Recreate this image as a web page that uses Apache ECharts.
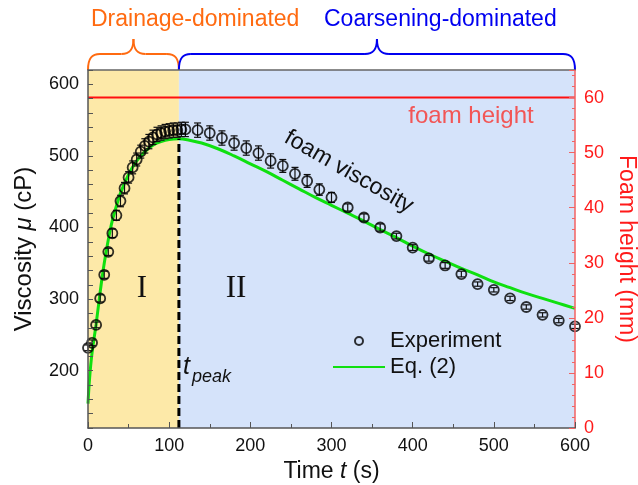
<!DOCTYPE html>
<html>
<head>
<meta charset="utf-8">
<script src="https://cdn.jsdelivr.net/npm/echarts@6/dist/echarts.min.js"></script>
<style>
  html, body { margin: 0; padding: 0; background: #fff; }
  #chart { width: 638px; height: 485px; }
</style>
</head>
<body>
<div id="chart"></div>
<script>
// experiment: time (s), viscosity (cP), error bar (cP)
var expT = [0, 5, 10, 15, 20, 25, 30, 35, 40, 45, 50, 55, 60, 65, 70, 75, 80, 85, 90, 95, 100, 105, 110, 115, 120,
            135, 150, 165, 180, 195, 210, 225, 240, 255, 270, 285, 300,
            320, 340, 360, 380, 400, 420, 440, 460, 480, 500, 520, 540, 560, 580, 600];
var expV = [232, 239, 264, 301, 334, 366, 392, 417, 437, 455, 470, 484, 495, 506, 514, 520, 526, 530, 532, 534, 535, 536, 536, 537, 537,
            536, 532, 525, 518, 511, 504, 493, 486, 475, 465, 453, 442,
            428, 414, 400, 388, 372, 357, 347, 335, 321, 313, 301, 289, 278, 270, 262];
var expErr = [4, 4, 4, 5, 5, 5, 6, 7, 8, 8, 8, 9, 9, 9, 10, 10, 10, 10, 10, 10, 10, 10, 10, 10, 10,
              10, 10, 10, 10, 10, 10, 10, 9, 9, 9, 8, 7,
              5, 5, 5, 4, 4, 4, 4, 4, 3, 3, 3, 3, 3, 3, 3];

// Eq. (2) fit
var fitT = [0, 2, 5, 10, 15, 20, 25, 30, 35, 40, 50, 60, 70, 80, 90, 100, 112, 125, 140, 160, 180, 200, 220, 240, 260, 280,
            300, 320, 340, 360, 380, 400, 420, 440, 460, 480, 500, 520, 540, 560, 580, 600];
var fitV = [154, 190, 225, 265, 310, 350, 383, 410, 430, 448, 474, 493, 506, 515, 520, 523, 524, 522, 518, 510, 500, 489, 478, 466, 454, 442,
            431, 420, 409, 397, 386, 374, 363, 353, 343, 334, 324, 316, 308, 301, 294, 287];

var tPeak = 112;
var peakV = 524;
var foamHeight = 60;
var xTicks = [0, 600];
var yTicks = [120, 620];
var y2Ticks = [0, 65];

var font = 'Liberation Sans, Arial, sans-serif';

var chart = echarts.init(document.getElementById('chart'));

function pairs(a, b) {
  return a.map(function (v, i) { return [v, b[i]]; });
}

var option = {
  animation: false,
  textStyle: { fontFamily: font },
  grid: { left: 88, right: 63, top: 70, bottom: 57, outerBoundsMode: 'none', containLabel: false },
  legend: {
    data: ['Experiment', { name: 'Eq. (2)', itemStyle: { opacity: 0 } }],
    orient: 'vertical',
    left: 332,
    top: 330,
    padding: 0,
    itemWidth: 52,
    itemHeight: 8,
    itemGap: 4,
    textStyle: { fontSize: 22, color: '#111', fontFamily: font }
  },
  xAxis: [{
    type: 'value',
    min: xTicks[0], max: xTicks[1], interval: 100,
    z: 10,
    axisLine: { onZero: false, lineStyle: { color: '#555', width: 1.5 } },
    axisTick: { inside: true, length: 6, lineStyle: { color: '#555' } },
    minorTick: { show: true, splitNumber: 2, length: 4, lineStyle: { color: '#555' } },
    splitLine: { show: false },
    axisLabel: { fontSize: 18, color: '#111', margin: 9 },
    name: 'Time {i|t} (s)',
    nameLocation: 'middle',
    nameGap: 29,
    nameTextStyle: { fontSize: 23, color: '#111', rich: { i: { fontStyle: 'italic', fontSize: 23, color: '#111' } } }
  }, {
    type: 'value',
    position: 'top',
    min: xTicks[0], max: xTicks[1],
    z: 10,
    axisLine: { onZero: false, lineStyle: { color: '#666', width: 1.5 } },
    axisTick: { show: false },
    axisLabel: { show: false },
    splitLine: { show: false }
  }],
  yAxis: [{
    type: 'value',
    position: 'left',
    min: yTicks[0], max: yTicks[1], interval: 20,
    z: 10,
    axisLine: { show: true, onZero: false, lineStyle: { color: '#555', width: 1.5 } },
    axisTick: { show: true, inside: true, length: 5, lineStyle: { color: '#555' } },
    splitLine: { show: false },
    axisLabel: {
      fontSize: 18, color: '#111', margin: 9,
      formatter: function (v) { return v % 100 === 0 ? v : ''; }
    },
    name: 'Viscosity {i|μ} (cP)',
    nameLocation: 'middle',
    nameGap: 52,
    nameTextStyle: { fontSize: 24, color: '#111', rich: { i: { fontStyle: 'italic', fontSize: 24, color: '#111' } } }
  }, {
    type: 'value',
    position: 'right',
    min: y2Ticks[0], max: y2Ticks[1], interval: 10,
    z: 10,
    axisLine: { show: true, onZero: false, lineStyle: { color: '#F26262', width: 1.5 } },
    axisTick: { show: true, inside: true, length: 6, lineStyle: { color: '#F26262' } },
    minorTick: { show: true, splitNumber: 5, length: 3, lineStyle: { color: '#F26262' } },
    splitLine: { show: false },
    axisLabel: {
      fontSize: 18, color: '#FF1A1A', margin: 9,
      formatter: function (v) { return v % 10 === 0 ? v : ''; }
    },
    name: 'Foam height (mm)',
    nameLocation: 'middle',
    nameRotate: -90,
    nameGap: 40,
    nameTextStyle: { fontSize: 23, color: '#FF1A1A' }
  }],
  series: [{
    name: 'regions',
    type: 'line',
    data: [],
    z: 0,
    silent: true,
    markArea: {
      silent: true,
      data: [
        [{ xAxis: 0, itemStyle: { color: '#FDE9A8' } }, { xAxis: tPeak }],
        [{ xAxis: tPeak, itemStyle: { color: '#D5E3FA' } }, { xAxis: 600 }]
      ]
    }
  }, {
    name: 'height',
    type: 'line',
    yAxisIndex: 1,
    data: [[0, foamHeight], [600, foamHeight]],
    symbol: 'none',
    z: 3,
    lineStyle: { color: '#FF1010', width: 2 }
  }, {
    name: 'Eq. (2)',
    type: 'line',
    data: pairs(fitT, fitV),
    smooth: 0.4,
    symbol: 'none',
    z: 4,
    itemStyle: { color: '#10E010' },
    lineStyle: { color: '#10E010', width: 3 }
  }, {
    name: 'peak',
    type: 'line',
    data: [[tPeak, yTicks[0]], [tPeak, peakV]],
    symbol: 'none',
    z: 5,
    lineStyle: { color: '#000', width: 3, type: [8, 4] }
  }, {
    name: 'errors',
    type: 'custom',
    z: 6,
    data: expT.map(function (t, i) { return [t, expV[i], expErr[i]]; }),
    renderItem: function (params, api) {
      var hi = api.coord([api.value(0), api.value(1) + api.value(2)]);
      var lo = api.coord([api.value(0), api.value(1) - api.value(2)]);
      var w = 3.5;
      var st = { stroke: '#111', lineWidth: 1.2 };
      return {
        type: 'group',
        children: [
          { type: 'line', shape: { x1: hi[0], y1: hi[1], x2: lo[0], y2: lo[1] }, style: st },
          { type: 'line', shape: { x1: hi[0] - w, y1: hi[1], x2: hi[0] + w, y2: hi[1] }, style: st },
          { type: 'line', shape: { x1: lo[0] - w, y1: lo[1], x2: lo[0] + w, y2: lo[1] }, style: st }
        ]
      };
    }
  }, {
    name: 'Experiment',
    type: 'scatter',
    data: pairs(expT, expV),
    symbol: 'circle',
    symbolSize: 10,
    z: 7,
    itemStyle: { color: 'rgba(0,0,0,0)', borderColor: '#000', borderWidth: 1.8 }
  }]
};

chart.setOption(option);

// annotations placed from data coordinates
var p0 = chart.convertToPixel({ xAxisIndex: 0 }, 0);
var pk = chart.convertToPixel({ xAxisIndex: 0 }, tPeak);
var p6 = chart.convertToPixel({ xAxisIndex: 0 }, 600);
var yTop = chart.convertToPixel({ yAxisIndex: 0 }, yTicks[1]);

function brace(xa, xb, yb, color) {
  var xm = (xa + xb) / 2, yh = yb - 16, yc = yb - 31, r = 12;
  var st = { stroke: color, lineWidth: 2, fill: null };
  function bz(x1, y1, c1x, c1y, c2x, c2y, x2, y2) {
    return { type: 'bezierCurve', shape: { x1: x1, y1: y1, cpx1: c1x, cpy1: c1y, cpx2: c2x, cpy2: c2y, x2: x2, y2: y2 }, style: st };
  }
  function ln(x1, y1, x2, y2) {
    return { type: 'line', shape: { x1: x1, y1: y1, x2: x2, y2: y2 }, style: st };
  }
  return {
    type: 'group', z: 20,
    children: [
      bz(xa, yb, xa, yh + 4, xa + 4, yh, xa + r, yh),
      ln(xa + r, yh, xm - r, yh),
      bz(xm - r, yh, xm - 4, yh, xm, yh - 4, xm, yc),
      bz(xm, yc, xm, yh - 4, xm + 4, yh, xm + r, yh),
      ln(xm + r, yh, xb - r, yh),
      bz(xb - r, yh, xb - 4, yh, xb, yh + 4, xb, yb)
    ]
  };
}

var viscPt = chart.convertToPixel({ xAxisIndex: 0, yAxisIndex: 0 }, [320, 500]);

chart.setOption({
  graphic: [
    brace(p0, pk, yTop, '#FF6A10'),
    brace(pk, p6, yTop, '#0000F0'),
    { type: 'text', x: 91, y: 20, style: { text: 'Drainage-dominated', fill: '#FF6A10', fontSize: 23, fontFamily: font, verticalAlign: 'middle' }, z: 20 },
    { type: 'text', x: 324, y: 20, style: { text: 'Coarsening-dominated', fill: '#0000F0', fontSize: 23, fontFamily: font, verticalAlign: 'middle' }, z: 20 },
    { type: 'text', x: 471, y: 116, style: { text: 'foam height', fill: '#F25656', fontSize: 24, fontFamily: font, align: 'center', verticalAlign: 'middle' }, z: 20 },
    { type: 'text', x: viscPt[0] + 1, y: viscPt[1] + 16, rotation: -0.52, style: { text: 'foam viscosity', fill: '#111', fontSize: 23, fontFamily: font, align: 'center', verticalAlign: 'middle' }, z: 20 },
    { type: 'text', x: 142, y: 289, style: { text: 'I', fill: '#111', fontSize: 31, fontFamily: 'Liberation Serif, serif', align: 'center', verticalAlign: 'middle' }, z: 20 },
    { type: 'text', x: 236, y: 289, style: { text: 'II', fill: '#111', fontSize: 31, fontFamily: 'Liberation Serif, serif', align: 'center', verticalAlign: 'middle' }, z: 20 },
    { type: 'text', x: 183, y: 380, style: { text: 't', fill: '#111', fontSize: 25, fontStyle: 'italic', fontFamily: font, verticalAlign: 'bottom' }, z: 20 },
    { type: 'text', x: 192, y: 386, style: { text: 'peak', fill: '#111', fontSize: 18, fontStyle: 'italic', fontFamily: font, verticalAlign: 'bottom' }, z: 20 }
  ]
});
</script>
</body>
</html>
